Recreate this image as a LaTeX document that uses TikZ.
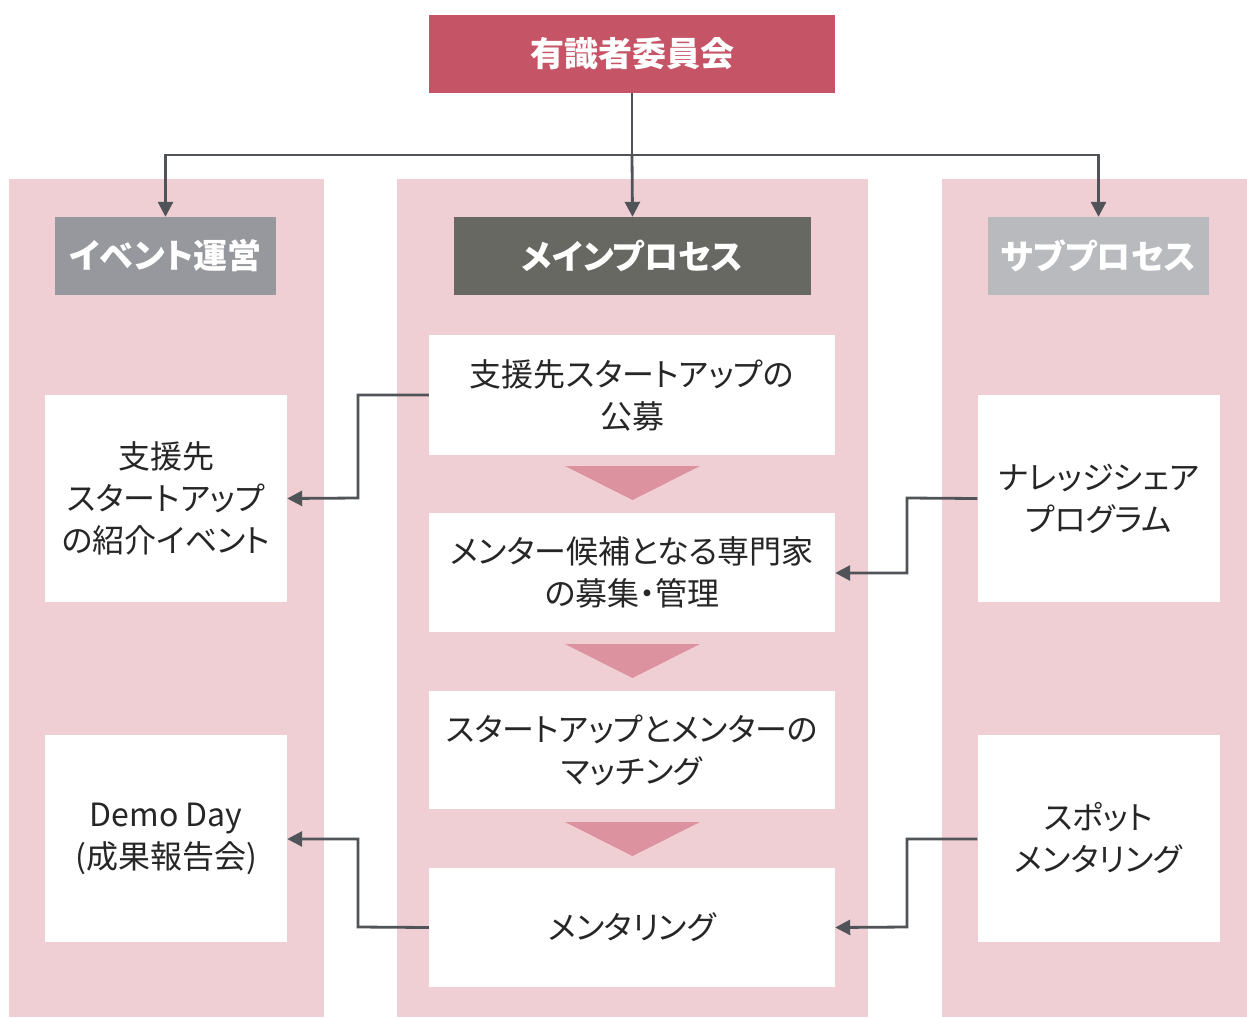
\documentclass[tikz,border=0pt]{standalone}
\usepackage{fontspec}
\setmainfont{Noto Sans CJK JP}[RawFeature=+palt]
\usetikzlibrary{arrows.meta}
\definecolor{topred}{HTML}{C55566}
\definecolor{colbg}{HTML}{F0CFD4}
\definecolor{hdrA}{HTML}{96989D}
\definecolor{hdrB}{HTML}{676862}
\definecolor{hdrC}{HTML}{B9BABE}
\definecolor{tri}{HTML}{DD929F}
\definecolor{lin}{HTML}{505358}
\begin{document}
\begin{tikzpicture}[x=1pt,y=-1pt,
  box/.style={fill=white,draw=none,inner sep=0pt,align=center,font=\fontsize{32}{42}\selectfont,text=black!85},
  hdr/.style={draw=none,inner sep=0pt,align=center,text=white,font=\fontsize{34}{40}\selectfont\bfseries},
  conn/.style={draw=lin,line width=2.8pt,-{Triangle[length=15pt,width=15pt]}},
  trio/.style={fill=tri,draw=none}]
\useasboundingbox (0,0) rectangle (1247,1017);
% column backgrounds
\fill[colbg] (9,179) rectangle (324,1017);
\fill[colbg] (397,179) rectangle (868,1017);
\fill[colbg] (942,179) rectangle (1247,1017);
% top
\node[hdr,fill=topred,minimum width=406pt,minimum height=78pt] (top) at (632,54) {有識者委員会};
% headers
\node[hdr,fill=hdrA,minimum width=221pt,minimum height=78pt] (hA) at (165.5,256) {イベント運営};
\node[hdr,fill=hdrB,minimum width=357pt,minimum height=78pt] (hB) at (632.5,256) {メインプロセス};
\node[hdr,fill=hdrC,minimum width=221pt,minimum height=78pt] (hC) at (1098.5,256) {サブプロセス};
% middle boxes
\node[box,minimum width=406pt,minimum height=120pt] (m1) at (632,395) {支援先スタートアップの\\公募};
\node[box,minimum width=406pt,minimum height=119pt] (m2) at (632,572.5) {メンター候補となる専門家\\の募集・管理};
\node[box,minimum width=406pt,minimum height=118pt] (m3) at (632,750) {スタートアップとメンターの\\マッチング};
\node[box,minimum width=406pt,minimum height=119pt] (m4) at (632,927.5) {メンタリング};
% side boxes
\node[box,minimum width=242pt,minimum height=207pt] (l1) at (166,498.5) {支援先\\スタートアップ\\の紹介イベント};
\node[box,minimum width=242pt,minimum height=207pt] (l2) at (166,838.5) {Demo Day\\(成果報告会)};
\node[box,minimum width=242pt,minimum height=207pt] (r1) at (1098.5,498.5) {ナレッジシェア\\プログラム};
\node[box,minimum width=242pt,minimum height=207pt] (r2) at (1098.5,838.5) {スポット\\メンタリング};
% triangles
\fill[trio] (565,466) -- (700,466) -- (632.5,500) -- cycle;
\fill[trio] (565,644) -- (700,644) -- (632.5,678) -- cycle;
\fill[trio] (565,822) -- (700,822) -- (632.5,856) -- cycle;
% connectors from top
\coordinate (jn) at (632,155);
\draw[draw=lin,line width=2.8pt] (top.south) -- (jn);
\draw[conn] (jn) -| (hA.north);
\draw[conn] (jn) -- (hB.north);
\draw[conn] (jn) -| (hC.north);
% side connectors
\draw[conn] (m1.west |- 0,395) -- (358,395) -- (358,498) -- (l1.east);
\draw[conn] (r1.west) -- (907,498) -- (907,573) -- (m2.east |- 0,573);
\draw[conn] (m4.west) -- (358,927) -- (358,839) -- (l2.east |- 0,839);
\draw[conn] (r2.west |- 0,839) -- (907,839) -- (907,927) -- (m4.east);
\end{tikzpicture}
\end{document}
